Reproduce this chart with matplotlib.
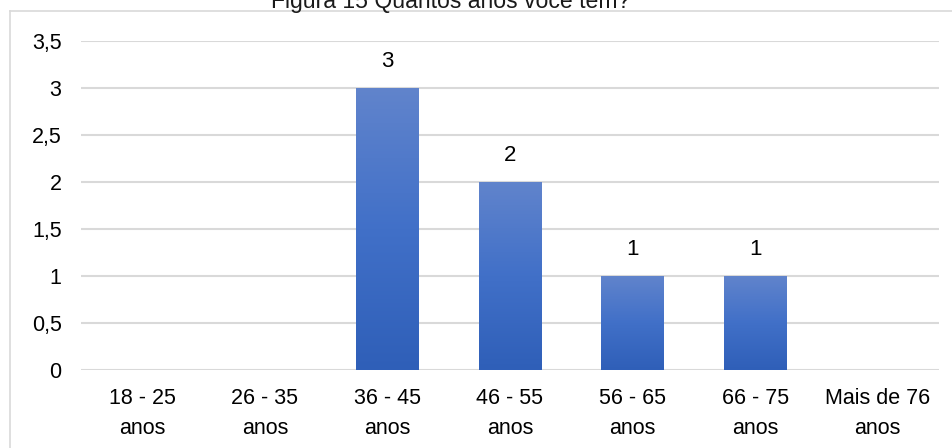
import numpy as np
import matplotlib.pyplot as plt
from matplotlib.lines import Line2D
from matplotlib.colors import LinearSegmentedColormap

plt.rcParams['font.family'] = ['Liberation Sans', 'DejaVu Sans']

categorias = ['18 - 25\nanos', '26 - 35\nanos', '36 - 45\nanos', '46 - 55\nanos',
              '56 - 65\nanos', '66 - 75\nanos', 'Mais de 76\nanos']
valores = [0, 0, 3, 2, 1, 1, 0]
yticks = [0, 0.5, 1, 1.5, 2, 2.5, 3, 3.5]
ytick_labels = ['0', '0,5', '1', '1,5', '2', '2,5', '3', '3,5']
titulo = 'Figura 15 Quantos anos você tem?'

fig = plt.figure(figsize=(9.52, 4.48), dpi=100)
ax = fig.add_axes([0.0851, 0.1741, 0.9012, 0.7344])

x = np.arange(len(categorias))
largura = 0.51
bars = ax.bar(x, valores, width=largura, color='#4472c4', zorder=2)

# degradê nas barras (claro em cima, escuro embaixo)
cmap = LinearSegmentedColormap.from_list('azul', ['#2f5fb8', '#4170c8', '#6184cc'])
grad = np.linspace(0, 1, 256).reshape(-1, 1)
for b, v in zip(bars, valores):
    if v <= 0:
        continue
    b.set_facecolor('none')
    x0 = b.get_x()
    im = ax.imshow(grad, extent=[x0, x0 + b.get_width(), 0, v], origin='lower',
                   cmap=cmap, aspect='auto', zorder=2)
    im.set_clip_path(b)
    ax.text(b.get_x() + b.get_width() / 2, v + 0.28, str(v), ha='center', va='center',
            fontsize=16, color='#000000')

ax.set_xlim(-0.5, len(categorias) - 0.5)
ax.set_ylim(0, 3.5)
ax.set_yticks(yticks)
ax.set_yticklabels(ytick_labels, fontsize=15.5)
ax.set_xticks(x)
ax.set_xticklabels(categorias, fontsize=15.5, linespacing=1.55)
ax.tick_params(length=0)
ax.tick_params(axis='y', pad=14)
ax.tick_params(axis='x', pad=13)
ax.grid(axis='y', color='#d9d9d9', linewidth=1.5, zorder=0)
for s in ax.spines.values():
    s.set_visible(False)

# moldura do gráfico (recortada)
fig.add_artist(Line2D([9.5 / 952, 1], [1 - 11.5 / 448, 1 - 11.5 / 448],
                      transform=fig.transFigure, color='#d9d9d9', linewidth=1.2))
fig.add_artist(Line2D([9.5 / 952, 9.5 / 952], [0, 1 - 11.5 / 448],
                      transform=fig.transFigure, color='#d9d9d9', linewidth=1.2))

fig.text(451 / 952, 1 - 8 / 448, titulo, ha='center', va='baseline', fontsize=16.6,
         color='#1a1a1a')

fig.savefig('out.png', dpi=100)
